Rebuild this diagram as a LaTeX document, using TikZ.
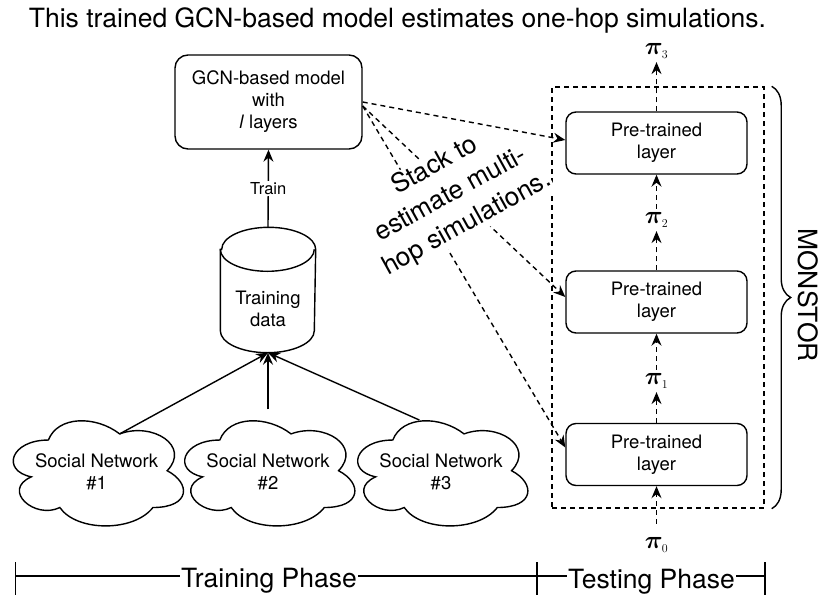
\documentclass[tikz,border=0pt]{standalone}
\usepackage[no-math]{fontspec}
\setmainfont{TeX Gyre Heros}
\usepackage{amsmath,bm}
\usetikzlibrary{arrows.meta,calc,decorations.pathreplacing}
\newcommand\mxcloud[1]{%
\begin{scope}[shift={(#1.north west)}, x=190pt, y=-122.7pt]
\draw (0.25,0.25) .. controls (0.05,0.25) and (0,0.5) .. (0.16,0.55)
 .. controls (0,0.66) and (0.18,0.9) .. (0.31,0.8)
 .. controls (0.4,1) and (0.7,1) .. (0.8,0.8)
 .. controls (1,0.8) and (1,0.6) .. (0.875,0.5)
 .. controls (1,0.3) and (0.8,0.1) .. (0.625,0.2)
 .. controls (0.5,0.05) and (0.3,0.05) .. (0.25,0.25) -- cycle;
\end{scope}}
\begin{document}
\begin{tikzpicture}[x=1pt,y=-1pt, line width=1.4pt,
 every node/.style={font=\fontsize{18.5}{22}\selectfont},
 rbox/.style={draw, rounded corners=10pt, align=center, minimum width=181pt, minimum height=62pt, inner sep=0pt},
 tip/.style={-{Stealth[length=12pt,width=10pt,inset=4pt]}},
 dsh/.style={dash pattern=on 5pt off 4pt},
 pil/.style={font=\fontsize{24}{28}\selectfont, inner sep=3pt},
 big/.style={font=\fontsize{26.5}{32}\selectfont}]
\useasboundingbox (0,0) rectangle (831,598);

\node[big, anchor=base] (title) at (397.5,27) {This trained GCN-based model estimates one-hop simulations.};

% GCN model
\node[draw, rounded corners=13pt, align=center, minimum width=187pt, minimum height=94pt, inner sep=0pt] (gcn) at (268.5,102) {GCN-based model\\with\\\textit{l} layers};

% cylinder
\node[minimum width=94pt, minimum height=124pt, inner sep=0pt] (db) at (268,290) {};
\draw ($(db.north west)+(0,22)$) -- ($(db.south west)+(0,-22)$) arc[start angle=180,end angle=0,x radius=47,y radius=22] -- ($(db.north east)+(0,22)$) arc[start angle=0,end angle=-180,x radius=47,y radius=22] -- cycle;
\draw ($(db.north west)+(0,22)$) arc[start angle=180,end angle=0,x radius=47,y radius=22];
\node[align=center] (dbt) at ($(db.center)+(0,19)$) {Training\\data};

% clouds
\node[minimum width=190pt, minimum height=122.7pt, align=center, inner sep=0pt] (c1) at (96.6,471.4) {Social Network\\\#1};
\node[minimum width=190pt, minimum height=122.7pt, align=center, inner sep=0pt] (c2) at (268,471.4) {Social Network\\\#2};
\node[minimum width=190pt, minimum height=122.7pt, align=center, inner sep=0pt] (c3) at (441,471.4) {Social Network\\\#3};
\mxcloud{c1}
\mxcloud{c2}
\mxcloud{c3}
\coordinate (c1t) at ($(c1.north west)+(0.625*190,0.2*122.7)$);
\coordinate (c3t) at ($(c3.north west)+(0.39*190,0.087*122.7)$);

\draw[tip] (c1t) -- (db.south);
\draw[tip] (c2.north) -- (db.south);
\draw[tip] (c3t) -- (db.south);
\draw[tip] (db.north) -- node[fill=white, font=\fontsize{16.5}{19}\selectfont, inner sep=1pt] (trn) {Train} (gcn.south);

% testing side
\node[draw, dsh, minimum width=212pt, minimum height=421pt, inner sep=0pt] (grp) at (658,297.5) {};
\node[rbox] (p1) at (656.5,143) {Pre-trained\\layer};
\node[rbox] (p2) at (656.5,302) {Pre-trained\\layer};
\node[rbox] (p3) at (656.5,454.5) {Pre-trained\\layer};
\node[pil] (pi3) at (656.5,51) {$\bm{\pi}_{\scriptscriptstyle 3}$};
\node[pil] (pi2) at (656.5,220) {$\bm{\pi}_{\scriptscriptstyle 2}$};
\node[pil] (pi1) at (656.5,381) {$\bm{\pi}_{\scriptscriptstyle 1}$};
\node[pil] (pi0) at (656.5,545) {$\bm{\pi}_{\scriptscriptstyle 0}$};
\draw[tip,dsh] ([yshift=10pt]pi0.north) -- (p3);
\draw[tip,dsh] (p3) -- (pi1);
\draw[tip,dsh] (pi1) -- (p2);
\draw[tip,dsh] (p2) -- (pi2);
\draw[tip,dsh] (pi2) -- (p1);
\draw[tip,dsh] (p1) -- (pi3);

\draw[decorate, decoration={brace, amplitude=19pt}] ($(grp.north east)+(7,0)$) -- ($(grp.south east)+(7,0)$);
\node[big, rotate=-90] (mon) at (808,295) {MONSTOR};

% stacking arrows
\draw[tip,dsh] ([yshift=-4pt]gcn.east) -- ([yshift=5pt]p2.west);
\draw[tip,dsh] ([yshift=-4pt]gcn.east) -- ([yshift=7pt]p3.west);
\node[rotate=29, fill=white, align=center, inner sep=1pt, font=\fontsize{26}{33}\selectfont] (stk) at (451,195) {Stack to\\estimate multi-\\hop simulations.};
\draw[tip,dsh] (gcn.east) -- ([yshift=3pt]p1.west);

% phase bar
\coordinate (bl) at (15.5,576);
\coordinate (bm) at (537,576);
\coordinate (br) at (765,576);
\draw (bl) -- (br);
\foreach \c in {bl,bm,br} \draw ($(\c)+(0,-14)$) -- ($(\c)+(0,19)$);
\node[big, fill=white, inner xsep=1pt, inner ysep=0pt, anchor=base] (trp) at (269,587) {Training Phase};
\node[big, fill=white, inner xsep=1pt, inner ysep=0pt, anchor=base] (tsp) at (651.5,588) {Testing Phase};
\end{tikzpicture}
\end{document}
